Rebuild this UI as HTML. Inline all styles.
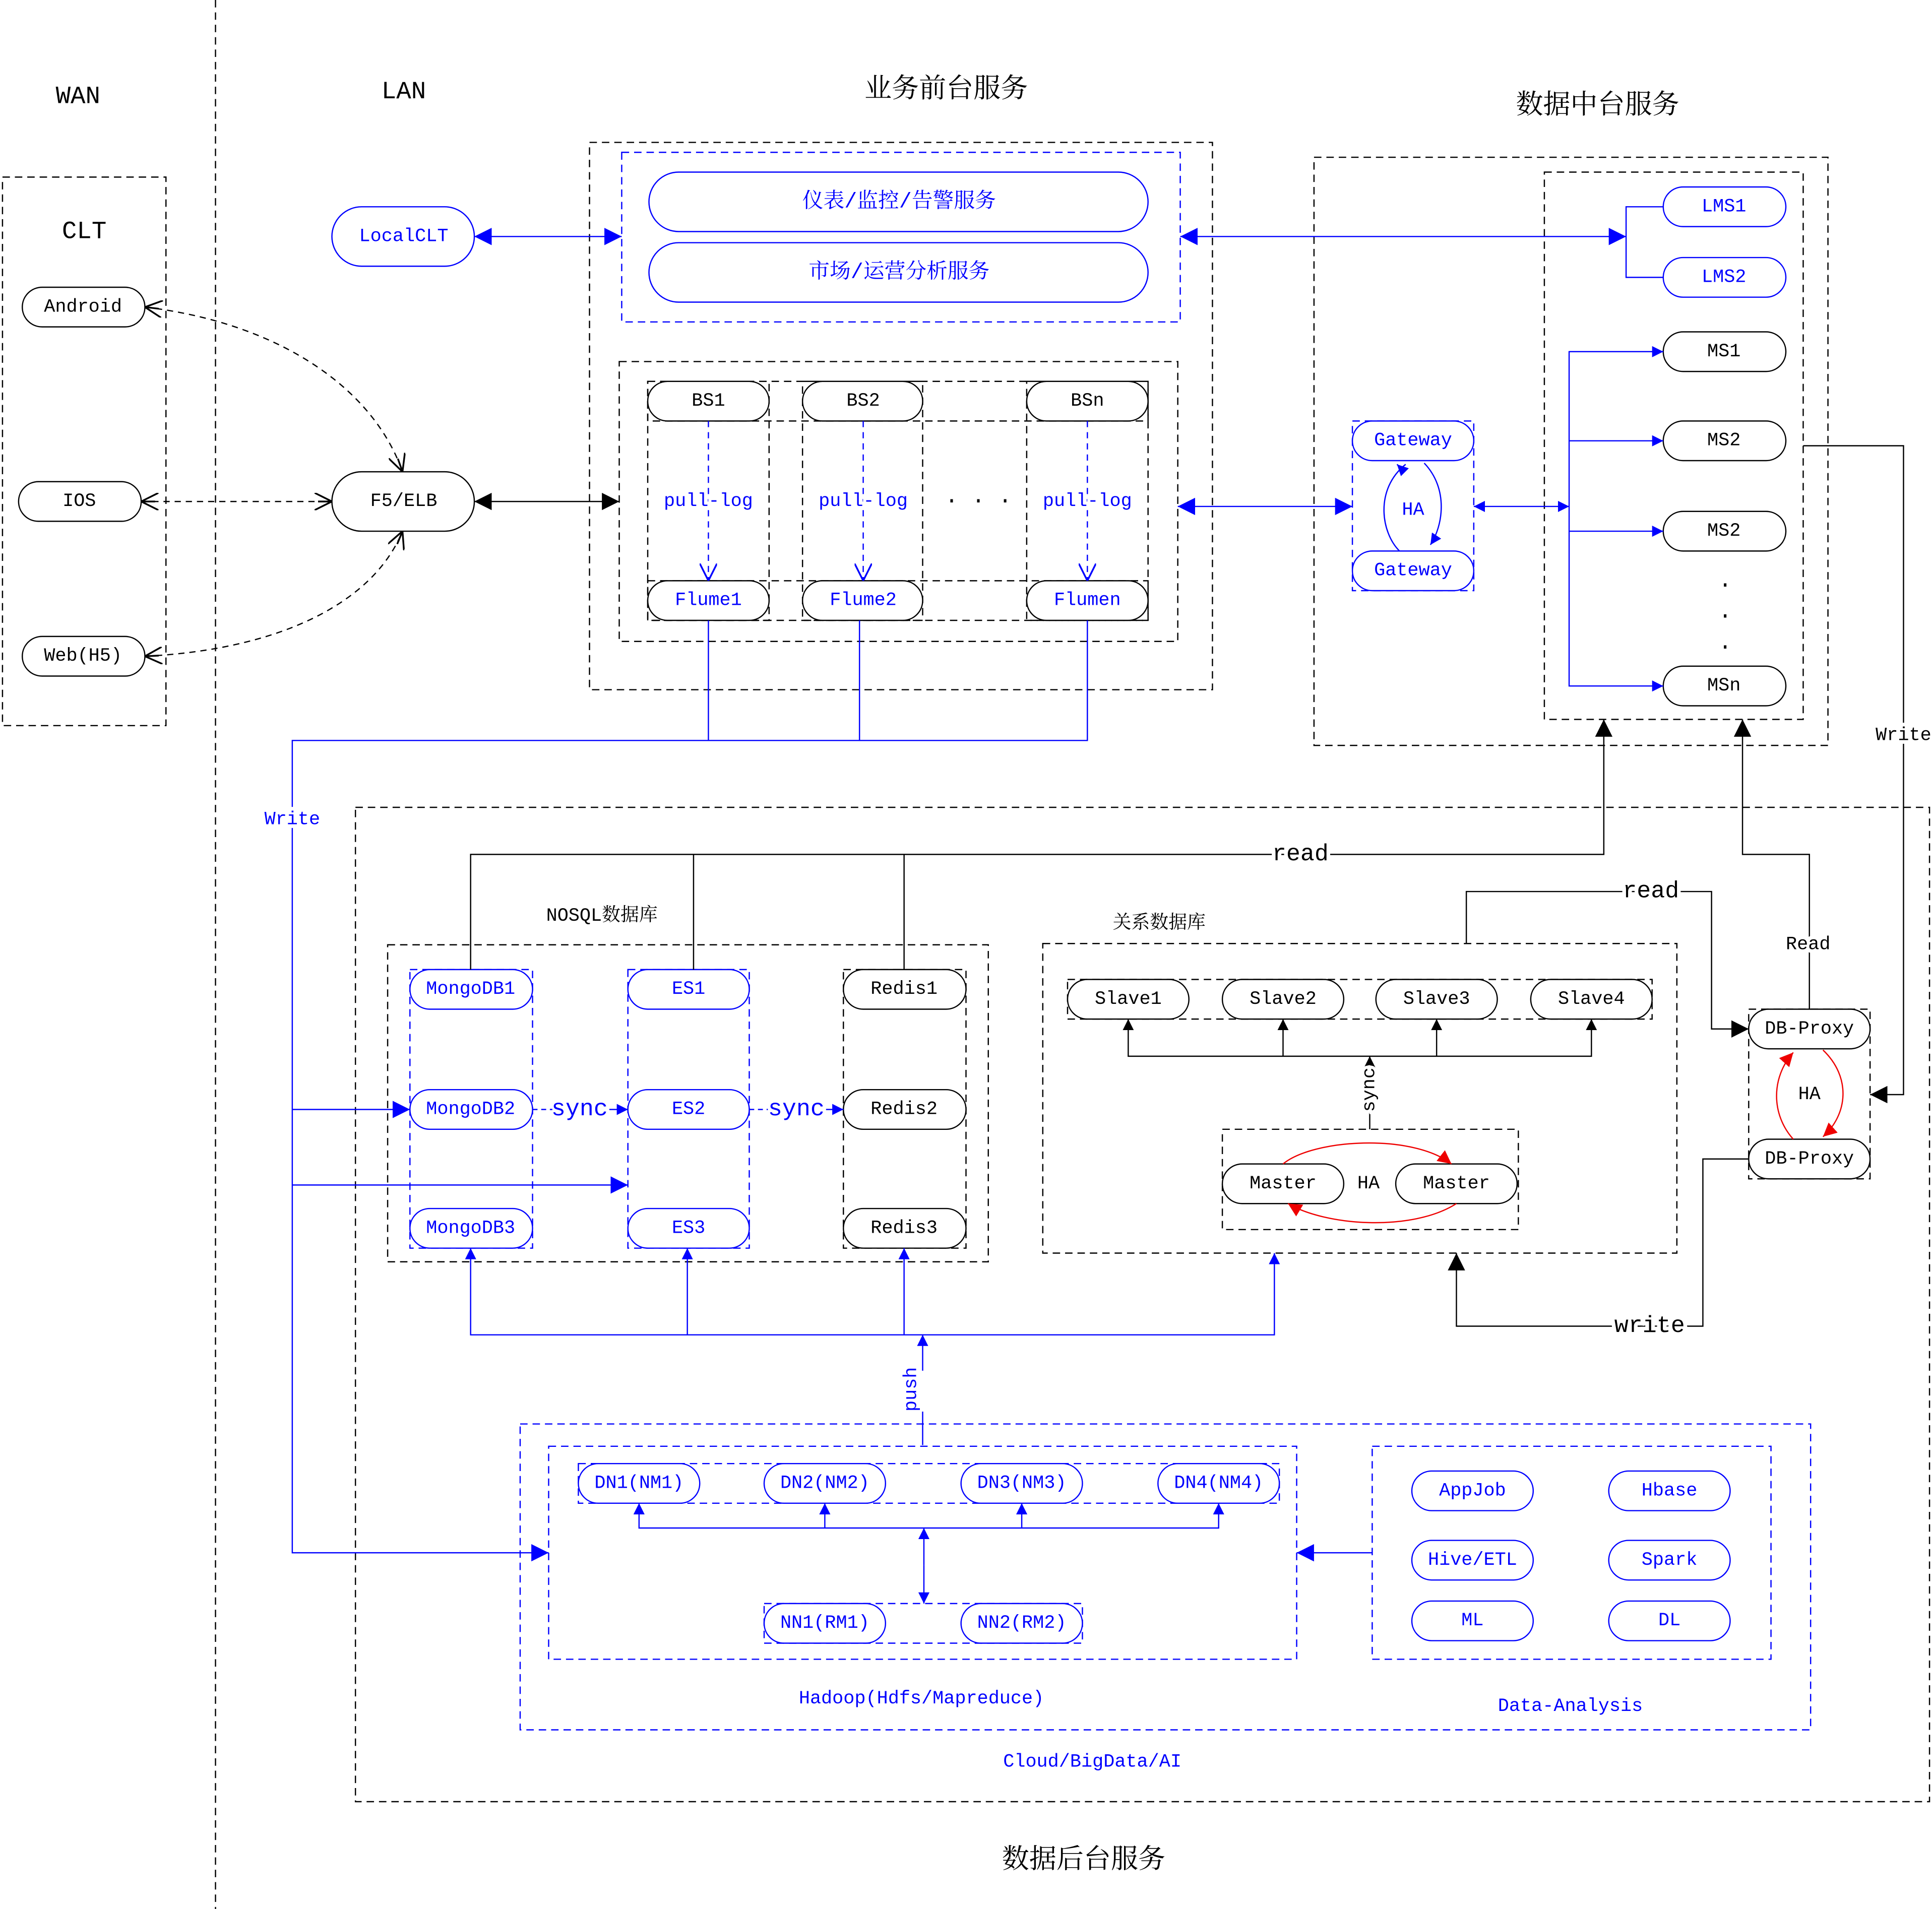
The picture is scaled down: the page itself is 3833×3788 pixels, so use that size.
<!DOCTYPE html>
<html><head><meta charset="utf-8"><style>
html,body{margin:0;padding:0;background:#fff}
svg{display:block}
text{font-family:"Liberation Mono","Noto Serif CJK SC","Noto Sans CJK SC",monospace;}
.c{text-anchor:middle;dominant-baseline:central}
</style></head><body>
<svg width="3833" height="3788" viewBox="0 0 1560 1541.7" xmlns="http://www.w3.org/2000/svg">
<defs>
<marker id="ab" viewBox="0 0 10 10" refX="10" refY="5" markerWidth="14" markerHeight="14" markerUnits="userSpaceOnUse" orient="auto-start-reverse"><path d="M0,0L10,5L0,10z" fill="#000"/></marker>
<marker id="au" viewBox="0 0 10 10" refX="10" refY="5" markerWidth="14" markerHeight="14" markerUnits="userSpaceOnUse" orient="auto-start-reverse"><path d="M0,0L10,5L0,10z" fill="#00f"/></marker>
<marker id="aus" viewBox="0 0 10 10" refX="10" refY="5" markerWidth="9" markerHeight="9" markerUnits="userSpaceOnUse" orient="auto-start-reverse"><path d="M0,0L10,5L0,10z" fill="#00f"/></marker>
<marker id="abs" viewBox="0 0 10 10" refX="10" refY="5" markerWidth="9" markerHeight="9" markerUnits="userSpaceOnUse" orient="auto-start-reverse"><path d="M0,0L10,5L0,10z" fill="#000"/></marker>
<marker id="ar" viewBox="0 0 10 10" refX="10" refY="5" markerWidth="11" markerHeight="11" markerUnits="userSpaceOnUse" orient="auto-start-reverse"><path d="M0,0L10,5L0,10z" fill="#e00"/></marker>
<marker id="ao" viewBox="0 0 10 10" refX="10" refY="5" markerWidth="14" markerHeight="14" markerUnits="userSpaceOnUse" orient="auto-start-reverse"><path d="M0,0L10,5L0,10M10,5L2,5" fill="none" stroke="#000" stroke-width="1"/></marker>
<marker id="aob" viewBox="0 0 10 10" refX="10" refY="5" markerWidth="14" markerHeight="14" markerUnits="userSpaceOnUse" orient="auto-start-reverse"><path d="M0,0L10,5L0,10" fill="none" stroke="#00f" stroke-width="1"/></marker>
</defs>
<rect width="1560" height="1542" fill="#fff"/>
<g fill="none" stroke-width="1">
<!-- dashed separators / boxes -->
<line x1="174" y1="0" x2="174" y2="1542" stroke="#000" stroke-dasharray="6,4"/>
<g stroke="#000" stroke-dasharray="6,4">
<rect x="2" y="143" width="132" height="443"/>
<rect x="476" y="115" width="503" height="442"/>
<rect x="500" y="292" width="451" height="226"/>
<rect x="523" y="308" width="404" height="32"/>
<rect x="523" y="469" width="404" height="32"/>
<rect x="523" y="308" width="98" height="193"/>
<rect x="648" y="308" width="97" height="193"/>
<rect x="829" y="308" width="98" height="193"/>
<rect x="1061" y="127" width="415" height="475"/>
<rect x="1247" y="139" width="209" height="442"/>
<rect x="287" y="652" width="1271" height="803"/>
<rect x="313" y="763" width="485" height="256"/>
<rect x="681" y="783" width="99" height="225"/>
<rect x="842" y="762" width="512" height="250"/>
<rect x="862" y="791" width="472" height="32"/>
<rect x="987" y="912" width="239" height="81"/>
<rect x="1412" y="815" width="98" height="137"/>
</g>
<g stroke="#00f" stroke-dasharray="6,4">
<rect x="502" y="123" width="451" height="137"/>
<rect x="1092" y="340" width="98" height="137"/>
<rect x="331" y="783" width="99" height="225"/>
<rect x="507" y="783" width="98" height="225"/>
<rect x="420" y="1150" width="1042" height="247"/>
<rect x="443" y="1168" width="604" height="172"/>
<rect x="467" y="1182" width="566" height="32"/>
<rect x="617" y="1295" width="257" height="32"/>
<rect x="1108" y="1168" width="322" height="172"/>
</g>
</g>
<!-- pills -->
<g fill="#fff" stroke-width="1">
<g stroke="#000">
<rect x="18" y="232" width="99" height="32" rx="16"/>
<rect x="15" y="389" width="99" height="32" rx="16"/>
<rect x="18" y="514" width="99" height="32" rx="16"/>
<rect x="268" y="381" width="115" height="48" rx="24"/>
<rect x="523" y="308" width="98" height="32" rx="16"/>
<rect x="648" y="308" width="97" height="32" rx="16"/>
<rect x="829" y="308" width="98" height="32" rx="16"/>
<rect x="523" y="469" width="98" height="32" rx="16"/>
<rect x="648" y="469" width="97" height="32" rx="16"/>
<rect x="829" y="469" width="98" height="32" rx="16"/>
<rect x="1343" y="268" width="99" height="32" rx="16"/>
<rect x="1343" y="340" width="99" height="32" rx="16"/>
<rect x="1343" y="413" width="99" height="32" rx="16"/>
<rect x="1343" y="538" width="99" height="32" rx="16"/>
<rect x="681" y="783" width="99" height="32" rx="16"/>
<rect x="681" y="880" width="99" height="32" rx="16"/>
<rect x="681" y="976" width="99" height="32" rx="16"/>
<rect x="862" y="791" width="98" height="32" rx="16"/>
<rect x="987" y="791" width="98" height="32" rx="16"/>
<rect x="1111" y="791" width="98" height="32" rx="16"/>
<rect x="1236" y="791" width="98" height="32" rx="16"/>
<rect x="987" y="940" width="98" height="32" rx="16"/>
<rect x="1127" y="940" width="98" height="32" rx="16"/>
<rect x="1412" y="815" width="98" height="32" rx="16"/>
<rect x="1412" y="920" width="98" height="32" rx="16"/>
</g>
<g stroke="#00f">
<rect x="268" y="167" width="115" height="48" rx="24"/>
<rect x="524" y="139" width="403" height="48" rx="24"/>
<rect x="524" y="196" width="403" height="48" rx="24"/>
<rect x="1343" y="151" width="99" height="32" rx="16"/>
<rect x="1343" y="208" width="99" height="32" rx="16"/>
<rect x="1092" y="340" width="98" height="32" rx="16"/>
<rect x="1092" y="445" width="98" height="32" rx="16"/>
<rect x="331" y="783" width="99" height="32" rx="16"/>
<rect x="331" y="880" width="99" height="32" rx="16"/>
<rect x="331" y="976" width="99" height="32" rx="16"/>
<rect x="507" y="783" width="98" height="32" rx="16"/>
<rect x="507" y="880" width="98" height="32" rx="16"/>
<rect x="507" y="976" width="98" height="32" rx="16"/>
<rect x="467" y="1182" width="98" height="32" rx="16"/>
<rect x="617" y="1182" width="98" height="32" rx="16"/>
<rect x="776" y="1182" width="98" height="32" rx="16"/>
<rect x="935" y="1182" width="98" height="32" rx="16"/>
<rect x="617" y="1295" width="98" height="32" rx="16"/>
<rect x="776" y="1295" width="98" height="32" rx="16"/>
<rect x="1140" y="1188" width="98" height="32" rx="16"/>
<rect x="1299" y="1188" width="98" height="32" rx="16"/>
<rect x="1140" y="1244" width="98" height="32" rx="16"/>
<rect x="1299" y="1244" width="98" height="32" rx="16"/>
<rect x="1140" y="1293" width="98" height="32" rx="16"/>
<rect x="1299" y="1293" width="98" height="32" rx="16"/>
</g>
</g>
<!-- connectors -->
<g fill="none" stroke-width="1">
<g stroke="#000" stroke-dasharray="5,4">
<path d="M117,248 C220,260 300,310 325,381" marker-start="url(#ao)" marker-end="url(#ao)"/>
<path d="M117,530 C220,525 300,490 325,429" marker-start="url(#ao)" marker-end="url(#ao)"/>
<line x1="114" y1="405" x2="268" y2="405" marker-start="url(#ao)" marker-end="url(#ao)"/>
</g>
<g stroke="#00f" stroke-dasharray="5,4">
<line x1="572" y1="340" x2="572" y2="469" marker-end="url(#aob)"/>
<line x1="697" y1="340" x2="697" y2="469" marker-end="url(#aob)"/>
<line x1="878" y1="340" x2="878" y2="469" marker-end="url(#aob)"/>
</g>
<g stroke="#000">
<line x1="383" y1="405" x2="500" y2="405" marker-start="url(#ab)" marker-end="url(#ab)"/>
<path d="M380,783V690H1295V581" marker-end="url(#ab)"/>
<line x1="560" y1="690" x2="560" y2="783"/>
<line x1="730" y1="690" x2="730" y2="783"/>
<path d="M1184,762V720H1382V831H1412" marker-end="url(#ab)"/>
<path d="M1461,815V690H1407V581" marker-end="url(#ab)"/>
<path d="M1456,360H1537V884H1510" marker-end="url(#ab)"/>
<path d="M1412,936H1375V1071H1176V1012" marker-end="url(#ab)"/>
<path d="M911,823V853H1285V823" marker-start="url(#abs)" marker-end="url(#abs)"/>
<line x1="1036" y1="853" x2="1036" y2="823" marker-end="url(#abs)"/>
<line x1="1160" y1="853" x2="1160" y2="823" marker-end="url(#abs)"/>
<line x1="1106" y1="912" x2="1106" y2="853" marker-end="url(#abs)"/>
</g>
<g stroke="#00f">
<line x1="383" y1="191" x2="502" y2="191" marker-start="url(#au)" marker-end="url(#au)"/>
<line x1="953" y1="191" x2="1313" y2="191" marker-start="url(#au)" marker-end="url(#au)"/>
<path d="M1343,167H1313V224H1343"/>
<line x1="951" y1="409" x2="1092" y2="409" marker-start="url(#au)" marker-end="url(#au)"/>
<line x1="1190" y1="409" x2="1267" y2="409" marker-start="url(#aus)" marker-end="url(#aus)"/>
<path d="M1343,284H1267V554H1343" marker-end="url(#aus)"/>
<line x1="1267" y1="284" x2="1343" y2="284" marker-end="url(#aus)"/>
<line x1="1267" y1="356" x2="1343" y2="356" marker-end="url(#aus)"/>
<line x1="1267" y1="429" x2="1343" y2="429" marker-end="url(#aus)"/>
<path d="M1135,375 C1110,395 1115,430 1130,445"/>
<path d="M1130,377 L1128,375" marker-end="url(#aus)"/>
<path d="M1150,374 C1170,395 1165,425 1155,440" marker-end="url(#aus)"/>
<path d="M572,501V598M694,501V598M878,501V598H236V1254H443" marker-end="url(#au)"/>
<line x1="236" y1="896" x2="331" y2="896" marker-end="url(#au)"/>
<line x1="236" y1="957" x2="507" y2="957" marker-end="url(#au)"/>
<line x1="430" y1="896" x2="446" y2="896" stroke-dasharray="4,3"/>
<line x1="492" y1="896" x2="507" y2="896" marker-end="url(#aus)"/>
<line x1="605" y1="896" x2="620" y2="896" stroke-dasharray="4,3"/>
<line x1="667" y1="896" x2="681" y2="896" marker-end="url(#aus)"/>
<path d="M380,1008V1078H1029V1012" marker-start="url(#aus)" marker-end="url(#aus)"/>
<line x1="555" y1="1078" x2="555" y2="1008" marker-end="url(#aus)"/>
<line x1="730" y1="1078" x2="730" y2="1008" marker-end="url(#aus)"/>
<line x1="745" y1="1107" x2="745" y2="1078" marker-end="url(#aus)"/>
<line x1="745" y1="1167" x2="745" y2="1140"/>
<path d="M516,1214V1234H984V1214" marker-start="url(#aus)" marker-end="url(#aus)"/>
<line x1="666" y1="1234" x2="666" y2="1214" marker-end="url(#aus)"/>
<line x1="825" y1="1234" x2="825" y2="1214" marker-end="url(#aus)"/>
<line x1="746" y1="1264" x2="746" y2="1234" marker-end="url(#aus)"/>
<line x1="746" y1="1264" x2="746" y2="1295" marker-end="url(#aus)"/>
<line x1="1108" y1="1254" x2="1047" y2="1254" marker-end="url(#au)"/>
</g>
<g stroke="#e00">
<path d="M1036,940 C1060,920 1140,915 1172,940" marker-end="url(#ar)"/>
<path d="M1176,972 C1140,995 1070,990 1040,972" marker-end="url(#ar)"/>
<path d="M1448,920 C1430,900 1430,870 1448,850" marker-end="url(#ar)"/>
<path d="M1472,848 C1495,870 1492,900 1472,918" marker-end="url(#ar)"/>
</g>
</g>
<!-- text -->
<g font-size="15" fill="#000">
<text class="c" x="63" y="78" font-size="20">WAN</text>
<text class="c" x="326" y="74" font-size="20">LAN</text>
<text class="c" x="764" y="73" font-size="22">业务前台服务</text>
<text class="c" x="1290" y="86" font-size="22">数据中台服务</text>
<text class="c" x="875" y="1503" font-size="22">数据后台服务</text>
<text class="c" x="68" y="187" font-size="20">CLT</text>
<text class="c" x="67" y="248">Android</text>
<text class="c" x="64" y="405">IOS</text>
<text class="c" x="67" y="530">Web(H5)</text>
<text class="c" x="326" y="405">F5/ELB</text>
<text class="c" x="572" y="324">BS1</text>
<text class="c" x="697" y="324">BS2</text>
<text class="c" x="878" y="324">BSn</text>
<text class="c" x="790" y="405" font-size="18">·  ·  ·</text>
<text class="c" x="1392" y="284">MS1</text>
<text class="c" x="1392" y="356">MS2</text>
<text class="c" x="1392" y="429">MS2</text>
<text class="c" x="1392" y="554">MSn</text>
<text class="c" x="1393" y="473" font-size="18">·</text>
<text class="c" x="1393" y="498" font-size="18">·</text>
<text class="c" x="1393" y="523" font-size="18">·</text>
<text class="c" x="730" y="799">Redis1</text>
<text class="c" x="730" y="896">Redis2</text>
<text class="c" x="730" y="992">Redis3</text>
<text class="c" x="911" y="807">Slave1</text>
<text class="c" x="1036" y="807">Slave2</text>
<text class="c" x="1160" y="807">Slave3</text>
<text class="c" x="1285" y="807">Slave4</text>
<text class="c" x="1036" y="956">Master</text>
<text class="c" x="1176" y="956">Master</text>
<text class="c" x="1105" y="956">HA</text>
<text class="c" x="1461" y="831">DB-Proxy</text>
<text class="c" x="1461" y="936">DB-Proxy</text>
<text class="c" x="1461" y="884">HA</text>
<text class="c" x="486" y="740">NOSQL数据库</text>
<text class="c" x="936" y="746">关系数据库</text>
<text class="c" x="1050" y="690" font-size="19" style="paint-order:stroke" stroke="#fff" stroke-width="6">read</text>
<text class="c" x="1333" y="720" font-size="19" style="paint-order:stroke" stroke="#fff" stroke-width="6">read</text>
<text class="c" x="1332" y="1071" font-size="19" style="paint-order:stroke" stroke="#fff" stroke-width="6">write</text>
<text class="c" x="1460" y="763" style="paint-order:stroke" stroke="#fff" stroke-width="6">Read</text>
<text class="c" x="1537" y="594" style="paint-order:stroke" stroke="#fff" stroke-width="6">Write</text>
<text class="c" x="1106" y="880" transform="rotate(-90 1106 880)" style="paint-order:stroke" stroke="#fff" stroke-width="5">sync</text>
</g>
<g font-size="15" fill="#00f">
<text class="c" x="326" y="191">LocalCLT</text>
<text class="c" x="726" y="163" font-size="17">仪表/监控/告警服务</text>
<text class="c" x="726" y="220" font-size="17">市场/运营分析服务</text>
<text class="c" x="572" y="405" style="paint-order:stroke" stroke="#fff" stroke-width="5">pull-log</text>
<text class="c" x="697" y="405" style="paint-order:stroke" stroke="#fff" stroke-width="5">pull-log</text>
<text class="c" x="878" y="405" style="paint-order:stroke" stroke="#fff" stroke-width="5">pull-log</text>
<text class="c" x="572" y="485">Flume1</text>
<text class="c" x="697" y="485">Flume2</text>
<text class="c" x="878" y="485">Flumen</text>
<text class="c" x="1392" y="167">LMS1</text>
<text class="c" x="1392" y="224">LMS2</text>
<text class="c" x="1141" y="356">Gateway</text>
<text class="c" x="1141" y="461">Gateway</text>
<text class="c" x="1141" y="412">HA</text>
<text class="c" x="236" y="662" style="paint-order:stroke" stroke="#fff" stroke-width="6">Write</text>
<text class="c" x="380" y="799">MongoDB1</text>
<text class="c" x="380" y="896">MongoDB2</text>
<text class="c" x="380" y="992">MongoDB3</text>
<text class="c" x="556" y="799">ES1</text>
<text class="c" x="556" y="896">ES2</text>
<text class="c" x="556" y="992">ES3</text>
<text class="c" x="468" y="896" font-size="19">sync</text>
<text class="c" x="643" y="896" font-size="19">sync</text>
<text class="c" x="736" y="1122" transform="rotate(-90 736 1122)">push</text>
<text class="c" x="516" y="1198">DN1(NM1)</text>
<text class="c" x="666" y="1198">DN2(NM2)</text>
<text class="c" x="825" y="1198">DN3(NM3)</text>
<text class="c" x="984" y="1198">DN4(NM4)</text>
<text class="c" x="666" y="1311">NN1(RM1)</text>
<text class="c" x="825" y="1311">NN2(RM2)</text>
<text class="c" x="1189" y="1204">AppJob</text>
<text class="c" x="1348" y="1204">Hbase</text>
<text class="c" x="1189" y="1260">Hive/ETL</text>
<text class="c" x="1348" y="1260">Spark</text>
<text class="c" x="1189" y="1309">ML</text>
<text class="c" x="1348" y="1309">DL</text>
<text class="c" x="744" y="1372">Hadoop(Hdfs/Mapreduce)</text>
<text class="c" x="1268" y="1378">Data-Analysis</text>
<text class="c" x="882" y="1423">Cloud/BigData/AI</text>
</g>
</svg>
</body></html>
